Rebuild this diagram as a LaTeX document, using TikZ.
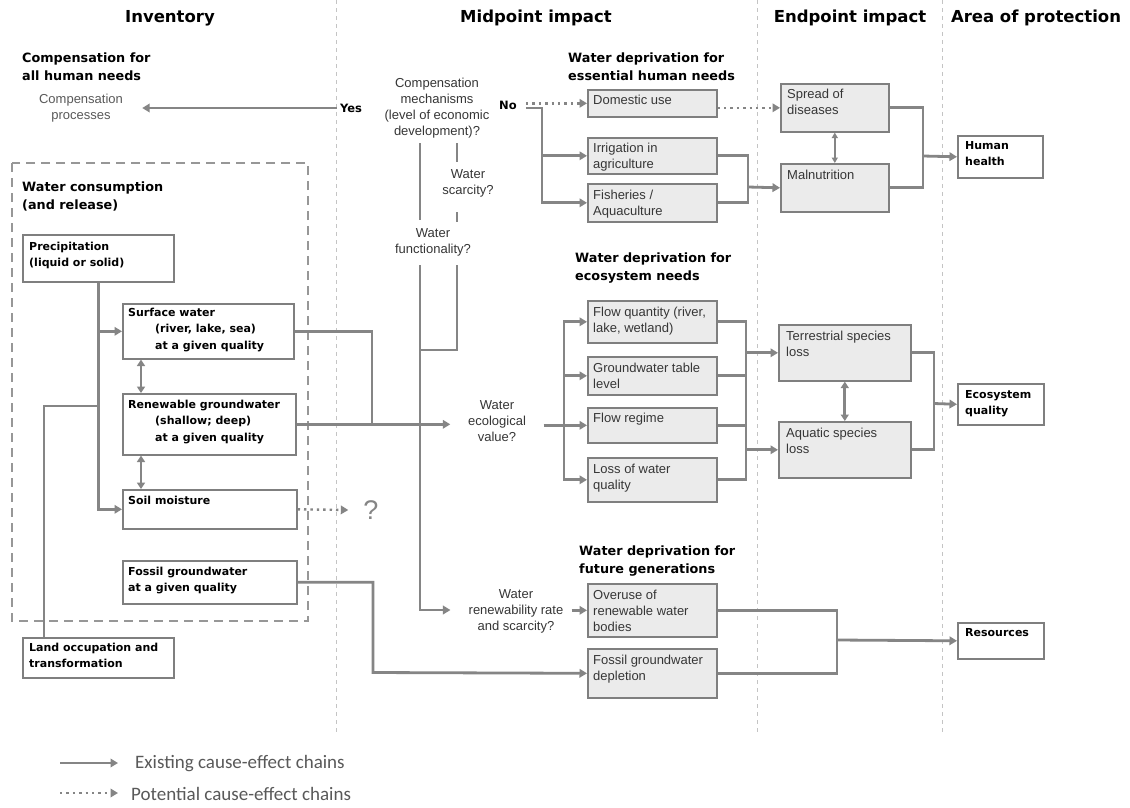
\documentclass[tikz,border=0pt]{standalone}
\usepackage{fontspec}
\setmainfont{Liberation Sans}
\newfontfamily\dvfam{DejaVu Sans}
\newfontfamily\legfam{Carlito}
\usetikzlibrary{arrows.meta}
\definecolor{ln}{HTML}{858585}
\definecolor{bxf}{HTML}{EBEBEB}
\definecolor{bxd}{HTML}{7F7F7F}
\definecolor{tx}{HTML}{363636}
\definecolor{divc}{HTML}{C4C4C4}
\definecolor{legc}{HTML}{595959}
\tikzset{
  conn/.style={draw=ln, line width=2.8pt},
  arr/.style={conn, -{Triangle[length=7.5pt,width=8.5pt]}},
  dots/.style={draw=ln, line width=2.4pt, dash pattern=on 2.4pt off 4pt, -{Triangle[length=7.5pt,width=8.5pt]}},
  dbl/.style={conn, {Triangle[length=6.5pt,width=8pt]}-{Triangle[length=6.5pt,width=8pt]}},
  dblthin/.style={draw=ln, line width=1.8pt, {Triangle[length=5.5pt,width=6pt]}-{Triangle[length=5.5pt,width=6pt]}},
  gbox/.style={draw=bxd, fill=bxf, line width=1.6pt, inner sep=0pt, anchor=north west},
  wbox/.style={draw=bxd, fill=white, line width=1.6pt, inner sep=0pt, anchor=north west},
  btxt/.style={font=\dvfam\bfseries\fontsize{11}{16.3}\selectfont, anchor=north west, align=left, inner sep=0pt},
  gtxt/.style={font=\fontsize{13}{16}\selectfont, text=tx, anchor=north west, align=left, inner sep=0pt},
  qtxt/.style={font=\fontsize{13}{16}\selectfont, text=tx, align=center, inner sep=0pt},
  ttl/.style={font=\dvfam\bfseries\fontsize{12.8}{17.5}\selectfont, anchor=north west, align=left, inner sep=0pt},
  hdr/.style={font=\dvfam\bfseries\fontsize{16.5}{18}\selectfont},
  yn/.style={font=\dvfam\bfseries\fontsize{11.5}{14}\selectfont},
  divl/.style={draw=divc, line width=0.9pt, dash pattern=on 4pt off 4pt},
  invd/.style={draw=ln!85, line width=1.8pt, dash pattern=on 9pt off 6pt},
  leg/.style={font=\legfam\fontsize{19}{21}\selectfont, text=legc, anchor=west, inner sep=0pt}
}
\begin{document}
\begin{tikzpicture}[x=1pt,y=-1pt]
\useasboundingbox[fill=white] (0,0) rectangle (1130,807);
% dividers
\draw[divl] (336,0) -- (336,735);
\draw[divl] (757,0) -- (757,735);
\draw[divl] (942,0) -- (942,735);
% headers
\node[hdr] (hInv) at (170,18) {Inventory};
\node[hdr] (hMid) at (536,18) {Midpoint impact};
\node[hdr] (hEnd) at (850,18) {Endpoint impact};
\node[hdr] (hAoP) at (1036,18) {Area of protection};
% titles
\node[ttl] (tComp) at (22,53) {Compensation for\\all human needs};
\node[ttl] (tWC) at (22,182) {Water consumption\\(and release)};
\node[ttl] (tEss) at (568,53) {Water deprivation for\\essential human needs};
\node[ttl] (tEco) at (575,253) {Water deprivation for\\ecosystem needs};
\node[ttl] (tFut) at (579,546) {Water deprivation for\\future generations};
% inventory dashed frame
\draw[invd] (12,163) rectangle (308,621);
% inventory boxes
\node[wbox, minimum width=151, minimum height=47] (prec) at (22,234) {};
\node[btxt] (precT) at (29,242) {Precipitation\\(liquid or solid)};
\node[wbox, minimum width=171, minimum height=55] (sw) at (122,303) {};
\node[btxt] (swT) at (128,308) {Surface water\\\hspace*{27pt}(river, lake, sea)\\\hspace*{27pt}at a given quality};
\node[wbox, minimum width=173, minimum height=61] (rg) at (122,393) {};
\node[btxt] (rgT) at (128,400) {Renewable groundwater\\\hspace*{27pt}(shallow; deep)\\\hspace*{27pt}at a given quality};
\node[wbox, minimum width=174, minimum height=39] (soil) at (122,489) {};
\node[btxt] (soilT) at (128,496) {Soil moisture};
\node[wbox, minimum width=174, minimum height=43] (fos) at (122,560) {};
\node[btxt] (fosT) at (128,567) {Fossil groundwater\\at a given quality};
\node[wbox, minimum width=151, minimum height=40] (land) at (22,637) {};
\node[btxt] (landT) at (29,643) {Land occupation and\\transformation};
% human needs boxes
\node[gbox, minimum width=129, minimum height=27] (dom) at (587,89) {};
\node[gtxt] (domT) at (593,95) {Domestic use};
\node[gbox, minimum width=129, minimum height=36] (irr) at (587,137) {};
\node[gtxt] (irrT) at (593,143) {Irrigation in\\agriculture};
\node[gbox, minimum width=129, minimum height=38] (fish) at (587,183) {};
\node[gtxt] (fishT) at (593,190) {Fisheries /\\Aquaculture};
\node[gbox, minimum width=108, minimum height=48] (sprd) at (780,83) {};
\node[gtxt] (sprdT) at (787,89) {Spread of\\diseases};
\node[gbox, minimum width=108, minimum height=48] (maln) at (780,163) {};
\node[gtxt] (malnT) at (787,170) {Malnutrition};
\node[wbox, minimum width=85, minimum height=42] (hh) at (957,135) {};
\node[btxt] (hhT) at (965,141) {Human\\health};
% ecosystem boxes
\node[gbox, minimum width=129, minimum height=42] (fq) at (587,300) {};
\node[gtxt] (fqT) at (593,307) {Flow quantity (river,\\lake, wetland)};
\node[gbox, minimum width=129, minimum height=38] (gwt) at (587,356) {};
\node[gtxt] (gwtT) at (593,363) {Groundwater table\\level};
\node[gbox, minimum width=129, minimum height=35] (fr) at (587,407) {};
\node[gtxt] (frT) at (593,413) {Flow regime};
\node[gbox, minimum width=129, minimum height=44] (lwq) at (587,457) {};
\node[gtxt] (lwqT) at (593,464) {Loss of water\\quality};
\node[gbox, minimum width=132, minimum height=56] (ter) at (778,324) {};
\node[gtxt] (terT) at (786,331) {Terrestrial species\\loss};
\node[gbox, minimum width=132, minimum height=56] (aq) at (778,421) {};
\node[gtxt] (aqT) at (786,428) {Aquatic species\\loss};
\node[wbox, minimum width=86, minimum height=41] (eq) at (957,383) {};
\node[btxt] (eqT) at (965,390) {Ecosystem\\quality};
% future boxes
\node[gbox, minimum width=129, minimum height=53] (ovr) at (587,583) {};
\node[gtxt] (ovrT) at (593,590) {Overuse of\\renewable water\\bodies};
\node[gbox, minimum width=129, minimum height=49] (fgd) at (587,648) {};
\node[gtxt] (fgdT) at (593,655) {Fossil groundwater\\depletion};
\node[wbox, minimum width=86, minimum height=36] (res) at (957,622) {};
\node[btxt] (resT) at (965,628) {Resources};
% question texts
\node[qtxt, text=legc, minimum width=122] (cp) at (81,108) {Compensation\\processes};
\node[qtxt] (cm) at (437,108) {Compensation\\mechanisms\\(level of economic\\development)?};
\node[qtxt] (ws) at (468,183) {Water\\scarcity?};
\node[qtxt] (wf) at (433,242) {Water\\functionality?};
\node[qtxt, minimum width=93] (wev) at (497,421) {Water\\ecological\\value?};
\node[qtxt] (wr) at (516,611) {Water\\renewability rate\\and scarcity?};
\node[yn] (yes) at (351,108) {Yes};
\node[yn, inner xsep=9pt] (no) at (508,105) {No};
\node[font=\fontsize{27}{27}\selectfont, text=ln, inner sep=0pt] (q) at (371,510) {?};
% --- connectors: inventory
\coordinate (lj) at (97.5,406);
\coordinate (lt) at (44,637);
\draw[arr] (prec.south) |- (soil.west);
\draw[arr] (prec.south |- sw.west) -- (sw.west);
\draw[conn] (lt) |- (lj);
\draw[dbl] ([xshift=19pt]sw.south west) -- ([xshift=19pt]rg.north west);
\draw[dbl] ([xshift=19pt]rg.south west) -- ([xshift=19pt]soil.north west);
\draw[dots] (soil.east) -- ([xshift=-15pt]q.west);
% inventory to midpoint
\coordinate (sj) at (372,423.5);
\draw[conn] (sw.east) -| (sj);
\draw[arr] (rg.east) -- (rg.east -| wev.west);
\coordinate (fj) at (373,672.5);
\draw[arr] (fos.east) -| (fj) -- (fgd.west);
\draw[arr] (yes.west) -- (cp.east);
% compensation mechanism branches
\coordinate (c1) at (420,143); \coordinate (c2) at (420,220);
\coordinate (c3) at (457,143); \coordinate (c4) at (457,162);
\coordinate (c5) at (457,212); \coordinate (c6) at (457,222);
\coordinate (c7) at (457,265); \coordinate (c8) at (457,350);
\coordinate (c9) at (420,350); \coordinate (c10) at (420,265);
\coordinate (c11) at (420,610);
\draw[conn] (c1) -- (c2);
\draw[conn] (c3) -- (c4);
\draw[conn] (c5) -- (c6);
\draw[conn] (c7) -- (c8) -- (c9);
\draw[arr] (c10) -- (c11) -- ([xshift=-18pt]wr.west |- c11);
\draw[arr] ([xshift=8pt]wr.east |- ovr.west) -- (ovr.west);
% No branch
\coordinate (nx) at (542,108);
\draw[dots] (no.east |- dom.west) -- (dom.west);
\draw[arr] ([yshift=-3pt]no.east) -- (nx) |- (fish.west);
\draw[arr] (nx |- irr.west) -- (irr.west);
% human health
\coordinate (hj) at (748,187);
\draw[conn] (irr.east) -| (hj);
\draw[conn] (fish.east) -| (hj);
\draw[arr] (hj) -- (maln.west);
\draw[dots] (dom.east |- sprd.west) -- (sprd.west);
\coordinate (hk) at (923,156);
\draw[conn] (sprd.east) -| (hk);
\draw[conn] (maln.east) -| (hk);
\draw[arr] (hk) -- (hh.west);
\draw[dblthin] (sprd.south) -- (maln.north);
% ecosystem
\coordinate (ej) at (564,424.5);
\draw[arr] (wev.east |- fr.west) -- (fr.west);
\draw[arr] (ej) |- (fq.west);
\draw[arr] (ej) |- (lwq.west);
\draw[arr] (ej |- gwt.west) -- (gwt.west);
\coordinate (ek) at (746,321);
\draw[conn] (fq.east) -| (lwq.east -| ek) -- (lwq.east);
\draw[conn] (gwt.east) -- (gwt.east -| ek);
\draw[conn] (fr.east) -- (fr.east -| ek);
\draw[arr] (ek |- ter.west) -- (ter.west);
\draw[arr] (ek |- aq.west) -- (aq.west);
\coordinate (tj) at (934,403.5);
\draw[conn] (ter.east) -| (tj);
\draw[conn] (aq.east) -| (tj);
\draw[arr] (tj) -- (eq.west);
\draw[dbl] (ter.south) -- (aq.north);
% resources
\coordinate (rj) at (837,640);
\draw[conn] (ovr.east) -| (rj);
\draw[conn] (fgd.east) -| (rj);
\draw[arr] (rj) -- (res.west);
% legend
\coordinate (la1) at (60,763); \coordinate (la2) at (118,763);
\coordinate (lb1) at (60,793); \coordinate (lb2) at (118,793);
\draw[arr] (la1) -- (la2);
\draw[dots] (lb1) -- (lb2);
\node[leg] (lg1) at (135,764) {Existing cause-effect chains};
\node[leg] (lg2) at (131,794) {Potential cause-effect chains};
\end{tikzpicture}
\end{document}
